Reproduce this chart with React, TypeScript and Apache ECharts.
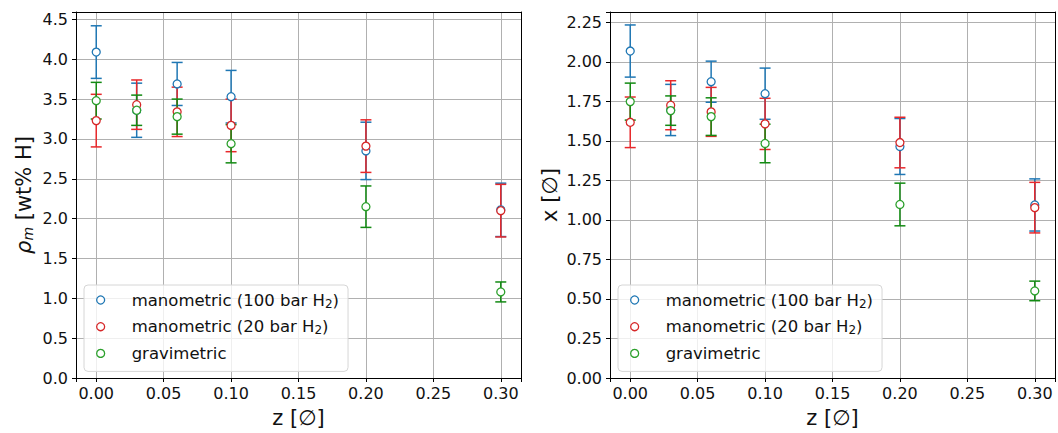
import React, { useEffect, useRef } from 'react';
import * as echarts from 'echarts';

const zValues = [0, 0.03, 0.06, 0.1, 0.2, 0.3];
const seriesNames = ['manometric (100 bar H₂)', 'manometric (20 bar H₂)', 'gravimetric'];

// left panel: rho_m [wt% H]
const rhoMano100 = [4.09, 3.36, 3.69, 3.53, 2.85, 2.11];
const rhoMano100Err = [0.33, 0.34, 0.27, 0.33, 0.36, 0.335];
const rhoMano20 = [3.23, 3.43, 3.34, 3.17, 2.91, 2.1];
const rhoMano20Err = [0.33, 0.31, 0.31, 0.33, 0.33, 0.33];
const rhoGrav = [3.48, 3.36, 3.28, 2.94, 2.15, 1.08];
const rhoGravErr = [0.23, 0.19, 0.22, 0.24, 0.26, 0.125];

// right panel: x [∅]
const xMano100 = [2.069, 1.696, 1.875, 1.799, 1.465, 1.095];
const xMano100Err = [0.165, 0.162, 0.13, 0.162, 0.177, 0.165];
const xMano20 = [1.618, 1.726, 1.684, 1.608, 1.49, 1.078];
const xMano20Err = [0.16, 0.155, 0.155, 0.162, 0.16, 0.16];
const xGrav = [1.749, 1.692, 1.654, 1.484, 1.098, 0.551];
const xGravErr = [0.117, 0.093, 0.119, 0.122, 0.135, 0.062];

const leftYTicks = { min: 0, max: 4.593, interval: 0.5, digits: 1 };
const rightYTicks = { min: 0, max: 2.316, interval: 0.25, digits: 2 };
const xRange = { min: -0.015, max: 0.315, interval: 0.05 };

const markerColors = ['#1f77b4', '#d62728', '#2ca02c'];
const errorColors = ['#1f77b4', '#e8282b', '#128a12'];
const FONT = 'DejaVu Sans';
const TXT = '#111';

const isMultiple = (v: number, step: number) => Math.abs(v / step - Math.round(v / step)) < 1e-6;

const renderErr = (color: string) => (params: any, api: any) => {
  const x = api.value(0);
  const lo = api.value(1);
  const hi = api.value(2);
  const p1 = api.coord([x, lo]);
  const p2 = api.coord([x, hi]);
  const cap = 5.5;
  const style = { stroke: color, lineWidth: 1.5 };
  return {
    type: 'group',
    children: [
      { type: 'line', shape: { x1: p1[0], y1: p1[1], x2: p2[0], y2: p2[1] }, style },
      { type: 'line', shape: { x1: p1[0] - cap, y1: p1[1], x2: p1[0] + cap, y2: p1[1] }, style },
      { type: 'line', shape: { x1: p2[0] - cap, y1: p2[1], x2: p2[0] + cap, y2: p2[1] }, style },
    ],
  };
};

function buildSeries(gridIdx: number, ys: number[][], errs: number[][]) {
  const out: any[] = [];
  ys.forEach((vals, i) => {
    out.push({
      type: 'custom',
      xAxisIndex: gridIdx * 2,
      yAxisIndex: gridIdx * 2,
      renderItem: renderErr(errorColors[i]),
      encode: { x: 0, y: [1, 2] },
      data: zValues.map((z, k) => [z, vals[k] - errs[i][k], vals[k] + errs[i][k]]),
      silent: true,
    });
    out.push({
      type: 'scatter',
      name: seriesNames[i],
      xAxisIndex: gridIdx * 2,
      yAxisIndex: gridIdx * 2,
      symbol: 'circle',
      symbolSize: 8,
      itemStyle: { color: '#fff', borderColor: markerColors[i], borderWidth: 1.3, opacity: 1 },
      data: zValues.map((z, k) => [z, vals[k]]),
    });
  });
  return out;
}

function xAxes(gridIdx: number) {
  return [
    {
      gridIndex: gridIdx,
      type: 'value',
      min: xRange.min,
      max: xRange.max,
      minInterval: xRange.interval,
      maxInterval: xRange.interval,
      name: 'z [∅]',
      nameLocation: 'middle',
      nameGap: 29,
      nameTextStyle: { fontSize: 21, color: TXT, fontFamily: FONT },
      axisLine: { show: true, onZero: false, lineStyle: { color: '#000', width: 1 } },
      axisTick: { show: true, length: 4, lineStyle: { color: '#000', width: 1 } },
      axisLabel: {
        fontSize: 16,
        color: TXT,
        fontFamily: FONT,
        margin: 7,
        formatter: (v: number) => (isMultiple(v, xRange.interval) ? v.toFixed(2) : ''),
      },
      splitLine: { show: true, lineStyle: { color: '#b0b0b0', width: 1 } },
    },
    {
      gridIndex: gridIdx,
      type: 'value',
      position: 'top',
      min: xRange.min,
      max: xRange.max,
      axisLine: { show: true, onZero: false, lineStyle: { color: '#000', width: 1 } },
      axisTick: { show: false },
      axisLabel: { show: false },
      splitLine: { show: false },
    },
  ];
}

function yAxes(gridIdx: number, t: any, name: string, nameGap: number) {
  return [
    {
      gridIndex: gridIdx,
      type: 'value',
      min: t.min,
      max: t.max,
      interval: t.interval,
      name,
      nameLocation: 'middle',
      nameGap,
      nameRotate: 90,
      nameTextStyle: {
        fontSize: 21,
        color: TXT,
        fontFamily: FONT,
        rich: {
          i: { fontSize: 21, fontStyle: 'italic', color: TXT, fontFamily: FONT },
          s: { fontSize: 14, fontStyle: 'italic', color: TXT, fontFamily: FONT, padding: [9, 0, 0, 0] },
        },
      },
      axisLine: { show: true, onZero: false, lineStyle: { color: '#000', width: 1 } },
      axisTick: { show: true, length: 4, lineStyle: { color: '#000', width: 1 } },
      axisLabel: {
        fontSize: 16,
        color: TXT,
        fontFamily: FONT,
        margin: 8,
        formatter: (v: number) =>
          isMultiple(v, t.interval) && v <= t.max - 0.01 ? v.toFixed(t.digits) : '',
      },
      splitLine: { show: true, lineStyle: { color: '#b0b0b0', width: 1 } },
    },
    {
      gridIndex: gridIdx,
      type: 'value',
      position: 'right',
      min: t.min,
      max: t.max,
      axisLine: { show: true, onZero: false, lineStyle: { color: '#000', width: 1 } },
      axisTick: { show: false },
      axisLabel: { show: false },
      splitLine: { show: false },
    },
  ];
}

function legendAt(left: number) {
  return {
    left,
    top: 285,
    orient: 'vertical',
    selectedMode: false,
    data: seriesNames.map((n, i) => ({
      name: n,
      icon: 'circle',
      itemStyle: { color: '#fff', borderColor: markerColors[i], borderWidth: 1.3 },
    })),
    formatter: (n: string) => n.replace('H₂)', 'H{sub|2})'),
    itemWidth: 20,
    itemHeight: 8,
    itemGap: 6.7,
    textStyle: {
      fontSize: 16.5,
      fontFamily: FONT,
      color: TXT,
      lineHeight: 20,
      padding: [0, 0, 0, 16],
      rich: {
        sub: { fontSize: 12, fontFamily: FONT, color: TXT, padding: [7, 0, 0, 0] },
      },
    },
    backgroundColor: 'rgba(255,255,255,0.8)',
    borderColor: '#d6d6d6',
    borderWidth: 1,
    borderRadius: 4,
    padding: [5, 9, 8, 12],
  };
}

export default function App() {
  const ref = useRef<HTMLDivElement>(null);
  useEffect(() => {
    if (!ref.current) return;
    const chart = echarts.init(ref.current, undefined, { renderer: 'svg' });
    const option: any = {
      animation: false,
      textStyle: { fontFamily: FONT },
      grid: [
        { left: 76, top: 12, width: 445, height: 367 },
        { left: 610, top: 12, width: 445, height: 367 },
      ],
      xAxis: [...xAxes(0), ...xAxes(1)],
      yAxis: [
        ...yAxes(0, leftYTicks, '{i|ρ}{s|m} [wt% H]', 41),
        ...yAxes(1, rightYTicks, 'x [∅]', 50),
      ],
      legend: [legendAt(84), legendAt(618)],
      series: [
        ...buildSeries(0, [rhoMano100, rhoMano20, rhoGrav], [rhoMano100Err, rhoMano20Err, rhoGravErr]),
        ...buildSeries(1, [xMano100, xMano20, xGrav], [xMano100Err, xMano20Err, xGravErr]),
      ],
    };
    chart.setOption(option);
    return () => chart.dispose();
  }, []);
  return (
    <div
      ref={ref}
      style={{ position: 'fixed', left: 0, top: 0, width: 1058, height: 433, background: '#fff' }}
    />
  );
}
